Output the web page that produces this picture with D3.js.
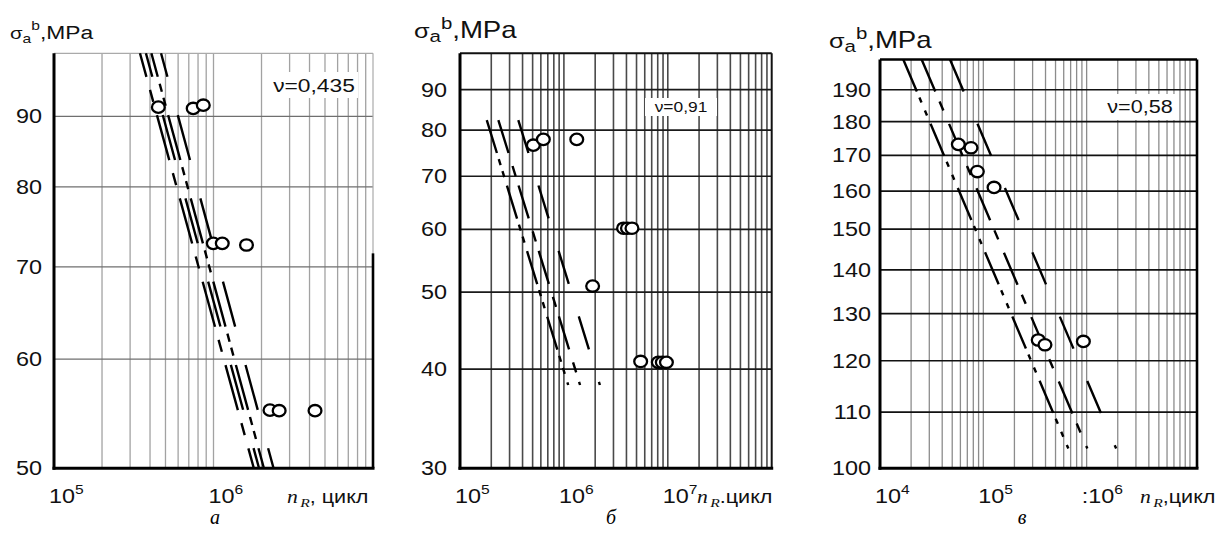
<!DOCTYPE html>
<html>
<head>
<meta charset="utf-8">
<script src="https://cdn.jsdelivr.net/npm/d3@7"></script>
<style>
  body { margin: 0; background: #fff; }
</style>
</head>
<body>
<svg id="fig" width="1225" height="533"></svg>
<script>
// ---- values ----

// panel а, nu = 0,435
var aCycles = [4.51e5, 7.46e5, 8.63e5, 9.97e5, 1.135e6, 1.61e6, 2.26e6, 2.58e6, 4.33e6];
var aStress = [91.4, 91.2, 91.7, 72.8, 72.8, 72.6, 55.1, 55.05, 55.05];
// design lines: [cycles, stress] at the start and at the end
var aLines = [
    [3.46e5, 100, 1.79e6, 50],
    [3.77e5, 100, 1.93e6, 50],
    [4.08e5, 100, 2.07e6, 50],
    [4.69e5, 100, 2.38e6, 50]
];
var aYTicks = [50, 60, 70, 80, 90];
var aXTicks = [1e5, 1e6];

// panel б, nu = 0,91
var bCycles = [5.08e5, 6.34e5, 1.33e6, 3.75e6, 4.09e6, 4.52e6, 1.89e6, 5.48e6, 8.1e6, 8.85e6, 9.7e6];
var bStress = [76.6, 77.9, 77.9, 60.2, 60.2, 60.2, 50.9, 40.9, 40.8, 40.8, 40.8];
var bLines = [
    [1.81e5, 82.4, 1.10e6, 38.2],
    [2.34e5, 82.4, 1.43e6, 38.2],
    [3.64e5, 82.4, 2.22e6, 38.2]
];
var bYTicks = [30, 40, 50, 60, 70, 80, 90];
var bXTicks = [1e5, 1e6, 1e7];

// panel в, nu = 0,58
var cCycles = [5.73e4, 7.6e4, 8.75e4, 1.27e5, 3.4e5, 3.95e5, 9.3e5];
var cStress = [173.2, 172.2, 165.4, 161.0, 124.3, 123.3, 124.0];
var cLines = [
    [1.68e4, 200, 6.65e5, 103.4],
    [2.53e4, 200, 1.016e6, 103.4],
    [4.76e4, 200, 1.93e6, 103.4]
];
var cYTicks = [100, 110, 120, 130, 140, 150, 160, 170, 180, 190];
var cXTicks = [1e4, 1e5, 1e6];

var nuLabels = ["ν=0,435", "ν=0,91", "ν=0,58"];
var captions = ["а", "б", "в"];

// ---- drawing ----
var svg = d3.select("#fig");

var sans = '"Liberation Sans", Arial, sans-serif',
    serif = '"Liberation Serif", "Times New Roman", serif',
    stretch = 1.2; // the scan is wider than it is tall, so glyphs look stretched

function label(x, y, anchor, size) {
    return svg.append("text")
        .attr("transform", "translate(" + x + "," + y + ") scale(" + stretch + ",1)")
        .attr("text-anchor", anchor || "start")
        .style("font-family", sans)
        .style("font-size", (size || 18) + "px")
        .attr("fill", "#111");
}

// dash lengths are measured vertically on the picture, convert them to along-the-line
function dashes(pattern, p, q) {
    var k = Math.hypot(q[0] - p[0], q[1] - p[1]) / Math.abs(q[1] - p[1]);
    return pattern.map(function(v) { return (v * k).toFixed(1); }).join(",");
}

function drawPanel(o) {
    var x = d3.scaleLog().domain(o.xDomain).range(o.xRange),
        y = d3.scaleLog().domain(o.yDomain).range(o.yRange);
    var left = o.xRange[0], right = o.xRange[1],
        top = o.yRange[1], bottom = o.yRange[0];

    var g = svg.append("g");

    // vertical log grid, 1..9 in every decade
    g.selectAll(".vg")
        .data(x.ticks().filter(function(d) { return x(d) > left + 1 && x(d) < right - 1; }))
      .enter().append("line")
        .attr("x1", function(d) { return x(d); })
        .attr("x2", function(d) { return x(d); })
        .attr("y1", top).attr("y2", bottom)
        .attr("stroke", o.vGrid).attr("stroke-width", o.vGridW);

    // horizontal grid at the labelled stresses
    g.selectAll(".hg")
        .data(o.yTicks.filter(function(d) { return y(d) < bottom - 1 && y(d) > top + 1; }))
      .enter().append("line")
        .attr("x1", left).attr("x2", right)
        .attr("y1", function(d) { return y(d); })
        .attr("y2", function(d) { return y(d); })
        .attr("stroke", o.hGrid).attr("stroke-width", o.hGridW);

    // frame
    g.append("line").attr("x1", left).attr("x2", right).attr("y1", top).attr("y2", top)
        .attr("stroke", o.topColor).attr("stroke-width", o.topW);
    g.append("line").attr("x1", right).attr("x2", right).attr("y1", top).attr("y2", bottom)
        .attr("stroke", o.rightColor).attr("stroke-width", o.rightW);
    if (o.rightDarkFrom) {
        g.append("line").attr("x1", right).attr("x2", right)
            .attr("y1", y(o.rightDarkFrom) - 5).attr("y2", bottom)
            .attr("stroke", "#000").attr("stroke-width", 2.6);
    }
    g.append("line").attr("x1", left).attr("x2", left).attr("y1", top).attr("y2", bottom + 1.5)
        .attr("stroke", "#000").attr("stroke-width", 3);
    g.append("line").attr("x1", left - 1.5).attr("x2", right + 1.5).attr("y1", bottom).attr("y2", bottom)
        .attr("stroke", "#000").attr("stroke-width", 3);

    // design lines
    o.lines.forEach(function(l, i) {
        var p = [x(l[0]), y(l[1])], q = [x(l[2]), y(l[3])];
        g.append("line")
            .attr("x1", p[0]).attr("y1", p[1])
            .attr("x2", q[0]).attr("y2", q[1])
            .attr("stroke", "#000")
            .attr("stroke-width", 2.4)
            .attr("stroke-dasharray", dashes(o.dash[i], p, q))
            .attr("stroke-dashoffset", dashes([o.dashOffset || 0], p, q));
    });

    // test points, open circles
    var pts = o.cycles.map(function(c, i) { return [c, o.stress[i]]; });
    g.selectAll(".pt")
        .data(pts)
      .enter().append("ellipse")
        .attr("cx", function(d) { return x(d[0]); })
        .attr("cy", function(d) { return y(d[1]); })
        .attr("rx", 6.4).attr("ry", 5.7)
        .attr("fill", "#fff")
        .attr("stroke", "#000")
        .attr("stroke-width", 2.3);

    // nu label over a white patch
    var nb = o.nuBox;
    g.append("rect").attr("x", nb[0]).attr("y", nb[1]).attr("width", nb[2]).attr("height", nb[3])
        .attr("fill", "#fff");
    label(nb[0] + nb[2] / 2, nb[1] + nb[3] / 2, "middle", o.nuSize)
        .attr("dy", "0.36em")
        .text(o.nu);

    // y tick labels
    o.yTicks.forEach(function(t) {
        label(left - o.yLabelGap, y(t), "end", 19.5).attr("dy", "0.36em").text(t);
    });

    // x tick labels: 10 with a raised exponent
    o.xTicks.forEach(function(t, i) {
        var tx = label(x(t) - 5, o.xLabelY, "start", 19.5);
        if (o.xPrefix && o.xPrefix[i]) tx.append("tspan").text(o.xPrefix[i]);
        tx.append("tspan").text("10");
        tx.append("tspan").attr("dy", -9).style("font-size", "13px")
            .text(Math.round(Math.log10(t)));
    });

    // axis title n_R, цикл
    var nt = label(o.nTitle[0], o.xLabelY, "start", 18);
    nt.append("tspan").style("font-family", serif).style("font-style", "italic").text("n");
    nt.append("tspan").attr("dx", 2).attr("dy", 4).style("font-family", serif)
        .style("font-style", "italic").style("font-size", "13px").text("R");
    nt.append("tspan").attr("dy", -4).text(o.nTitle[1]);

    // y title sigma_a^b, MPa
    var fs = o.sTitle[2];
    var st = label(o.sTitle[0], o.sTitle[1], "start", fs);
    st.append("tspan").style("font-size", (fs - 2) + "px").text("σ");
    st.append("tspan").attr("dy", 4).style("font-size", (fs - 6) + "px").text("a");
    st.append("tspan").attr("dy", -13).style("font-size", (fs - 6) + "px").text("b");
    st.append("tspan").attr("dy", 9).text(",MPa");

    // panel caption
    svg.append("text")
        .attr("x", o.caption[0]).attr("y", 524)
        .attr("text-anchor", "middle")
        .style("font-family", serif).style("font-style", "italic")
        .style("font-size", "20px")
        .text(o.caption[1]);
}

drawPanel({
    xDomain: [1e5, 1e7], xRange: [54, 373],
    yDomain: [50, 100], yRange: [468.3, 53.3],
    cycles: aCycles, stress: aStress, lines: aLines,
    yTicks: aYTicks, xTicks: aXTicks,
    dash: [[45, 13, 12, 13.3], [45, 38.3], [45, 7, 8, 6, 8, 9.3], [45, 38.3]],
    dashOffset: 21.5,
    vGrid: "#a2a2a2", vGridW: 1.3, hGrid: "#6f6f6f", hGridW: 1.2,
    topColor: "#aaa", topW: 1.2, rightColor: "#aaa", rightW: 1.2, rightDarkFrom: 71,
    nu: nuLabels[0], nuBox: [270, 72, 88, 26], nuSize: 19,
    yLabelGap: 12, xLabelY: 503,
    nTitle: [287, ", цикл"], sTitle: [10, 39, 19],
    caption: [215, captions[0]]
});

drawPanel({
    xDomain: [1e5, 1e8], xRange: [460, 771.7],
    yDomain: [30, 100], yRange: [468.3, 53.3],
    cycles: bCycles, stress: bStress, lines: bLines,
    yTicks: bYTicks, xTicks: bXTicks,
    dash: [[33, 6, 6, 6, 6, 8.5], [33, 13, 10, 9.5], [33, 32.5]],
    vGrid: "#4a4a4a", vGridW: 1.6, hGrid: "#1a1a1a", hGridW: 1.7,
    topColor: "#111", topW: 2, rightColor: "#111", rightW: 2,
    nu: nuLabels[1], nuBox: [645, 98, 72, 18], nuSize: 14.5,
    yLabelGap: 13, xLabelY: 503,
    nTitle: [697, ".цикл"], sTitle: [414, 38, 23],
    caption: [611, captions[1]]
});

drawPanel({
    xDomain: [1e4, 1.17e7], xRange: [880, 1197],
    yDomain: [100, 200], yRange: [468.3, 59.5],
    cycles: cCycles, stress: cStress, lines: cLines,
    yTicks: cYTicks, xTicks: cXTicks,
    dash: [[32, 6, 5, 8, 5, 8.3], [32, 10, 9, 13.3], [32, 32.3]],
    vGrid: "#8c8c8c", vGridW: 1.3, hGrid: "#111", hGridW: 1.7,
    topColor: "#000", topW: 2.6, rightColor: "#000", rightW: 2.6,
    nu: nuLabels[2], nuBox: [1103, 94, 74, 26], nuSize: 18,
    yLabelGap: 9, xLabelY: 503, xPrefix: [null, null, ":"],
    nTitle: [1140, ",цикл"], sTitle: [829, 48, 23],
    caption: [1022, captions[2]]
});
</script>
</body>
</html>
